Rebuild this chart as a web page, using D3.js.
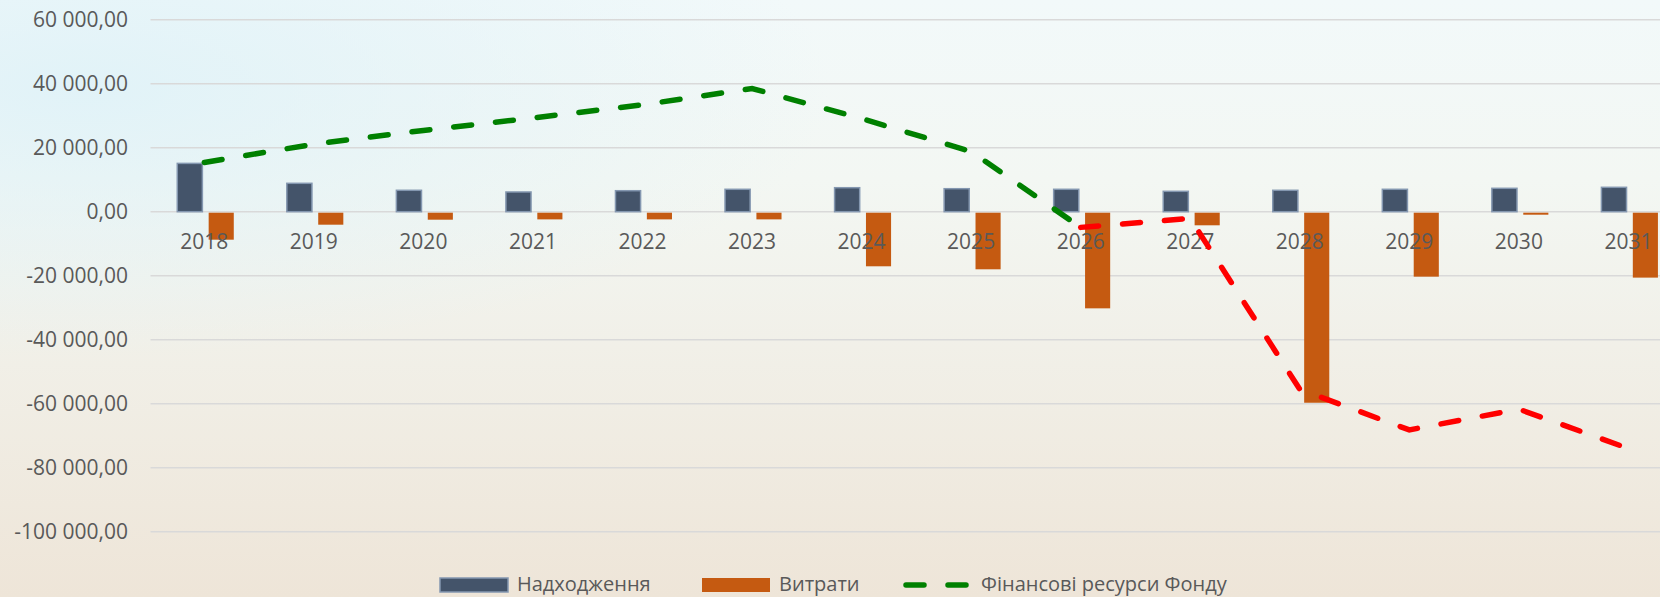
<!DOCTYPE html>
<html>
<head>
<meta charset="utf-8">
<script src="https://cdn.jsdelivr.net/npm/d3@7"></script>
<style>
  html, body { margin: 0; padding: 0; }
  body { width: 1660px; height: 597px; overflow: hidden; }
  text { font-family: "Open Sans", sans-serif; fill: #595959; }
</style>
</head>
<body>
<div id="chart"></div>
<script>
// data
var years = ["2018", "2019", "2020", "2021", "2022", "2023", "2024", "2025", "2026", "2027", "2028", "2029", "2030", "2031"];
var income = [15100, 8870, 6690, 6160, 6560, 7000, 7500, 7190, 7000, 6370, 6690, 7000, 7310, 7620];
var expenses = [-8750, -4060, -2500, -2400, -2400, -2400, -17060, -18000, -30200, -4250, -59700, -20300, -940, -20600];
var resources = [15400, 21100, 25400, 29300, 33400, 38500, 29100, 18800, -4900, -2100, -55500, -68200, -61700, -74000];
var redFrom = 8; // from 2026 the line turns red
var yTicks = [60000, 40000, 20000, 0, -20000, -40000, -60000, -80000, -100000];
var legendNames = ["Надходження", "Витрати", "Фінансові ресурси Фонду"];

var width = 1660, height = 597;

var svg = d3.select("#chart").append("svg")
    .attr("width", width)
    .attr("height", height);

// background
var defs = svg.append("defs");
var lg = defs.append("linearGradient").attr("id", "bg").attr("x1", 0).attr("y1", 0).attr("x2", 0).attr("y2", 1);
lg.append("stop").attr("offset", 0).attr("stop-color", "#f2f9fa");
lg.append("stop").attr("offset", 0.3).attr("stop-color", "#f3f7f3");
lg.append("stop").attr("offset", 1).attr("stop-color", "#eee5d8");
var rg = defs.append("radialGradient").attr("id", "glow").attr("cx", 0.05).attr("cy", 0.15).attr("r", 0.45);
rg.append("stop").attr("offset", 0).attr("stop-color", "#dff2f8").attr("stop-opacity", 0.9);
rg.append("stop").attr("offset", 1).attr("stop-color", "#dff2f8").attr("stop-opacity", 0);
svg.append("rect").attr("width", width).attr("height", height).attr("fill", "url(#bg)");
svg.append("rect").attr("width", width).attr("height", height).attr("fill", "url(#glow)");

// scales
var x = d3.scaleBand().domain(years).range([149.5, 149.5 + 14 * 109.55]);
var xInner = d3.scaleBand().domain(["in", "out"]).range([-27, 29.5]).paddingInner(0.2);
var y = d3.scaleLinear().domain([-100000, 60000]).range([531.7, 19.7]);
var cx = d => x(d) + x.bandwidth() / 2;

// gridlines + y labels
var fmt = v => d3.format(",.2f")(v).replace(/,/g, " ").replace(".", ",").replace("−", "-");
var yAxis = svg.append("g");
yAxis.selectAll("line").data(yTicks).enter().append("line")
    .attr("x1", 150.5).attr("x2", width)
    .attr("y1", d => y(d)).attr("y2", d => y(d))
    .attr("stroke", "#d9d9d9").attr("stroke-width", 1.5);
yAxis.selectAll("text").data(yTicks).enter().append("text")
    .attr("x", 128).attr("y", d => y(d)).attr("dy", "0.36em")
    .attr("text-anchor", "end").attr("font-size", 21)
    .text(d => fmt(d));

// bars
svg.append("g").selectAll("rect").data(years).enter().append("rect")
    .attr("x", (d, i) => cx(d) + xInner("in"))
    .attr("y", (d, i) => y(income[i]))
    .attr("width", xInner.bandwidth())
    .attr("height", (d, i) => y(0) - y(income[i]))
    .attr("fill", "#44546a").attr("stroke", "#8497b0").attr("stroke-width", 1.5);
svg.append("g").selectAll("rect").data(years).enter().append("rect")
    .attr("x", (d, i) => cx(d) + xInner("out"))
    .attr("y", y(0) + 1)
    .attr("width", xInner.bandwidth())
    .attr("height", (d, i) => y(expenses[i]) - y(0) - 1)
    .attr("fill", "#c55a11");

// category labels
svg.append("g").selectAll("text").data(years).enter().append("text")
    .attr("x", d => cx(d)).attr("y", 249)
    .attr("text-anchor", "middle").attr("font-size", 21)
    .text(d => d);

// line
var pts = years.map((d, i) => [cx(d), y(resources[i])]);
var line = d3.line();
svg.append("path").attr("d", line(pts.slice(0, redFrom + 1)))
    .attr("fill", "none").attr("stroke", "#008000").attr("stroke-width", 5.5)
    .attr("stroke-linecap", "round").attr("stroke-dasharray", "18,24");
svg.append("path").attr("d", line(pts.slice(redFrom)))
    .attr("fill", "none").attr("stroke", "#ff0000").attr("stroke-width", 5.5)
    .attr("stroke-linecap", "round").attr("stroke-dasharray", "18,24");

// legend
var legend = svg.append("g");
legend.append("rect").attr("x", 440).attr("y", 578).attr("width", 68).attr("height", 14)
    .attr("fill", "#44546a").attr("stroke", "#8497b0").attr("stroke-width", 1.5);
legend.append("text").attr("x", 517).attr("y", 591).attr("font-size", 20).text(legendNames[0]);
legend.append("rect").attr("x", 702).attr("y", 578).attr("width", 68).attr("height", 14)
    .attr("fill", "#c55a11");
legend.append("text").attr("x", 779).attr("y", 591).attr("font-size", 20).text(legendNames[1]);
legend.append("line").attr("x1", 906).attr("x2", 966).attr("y1", 585).attr("y2", 585)
    .attr("stroke", "#008000").attr("stroke-width", 5.5).attr("stroke-linecap", "round")
    .attr("stroke-dasharray", "18,24");
legend.append("text").attr("x", 981).attr("y", 591).attr("font-size", 20).text(legendNames[2]);
</script>
</body>
</html>
